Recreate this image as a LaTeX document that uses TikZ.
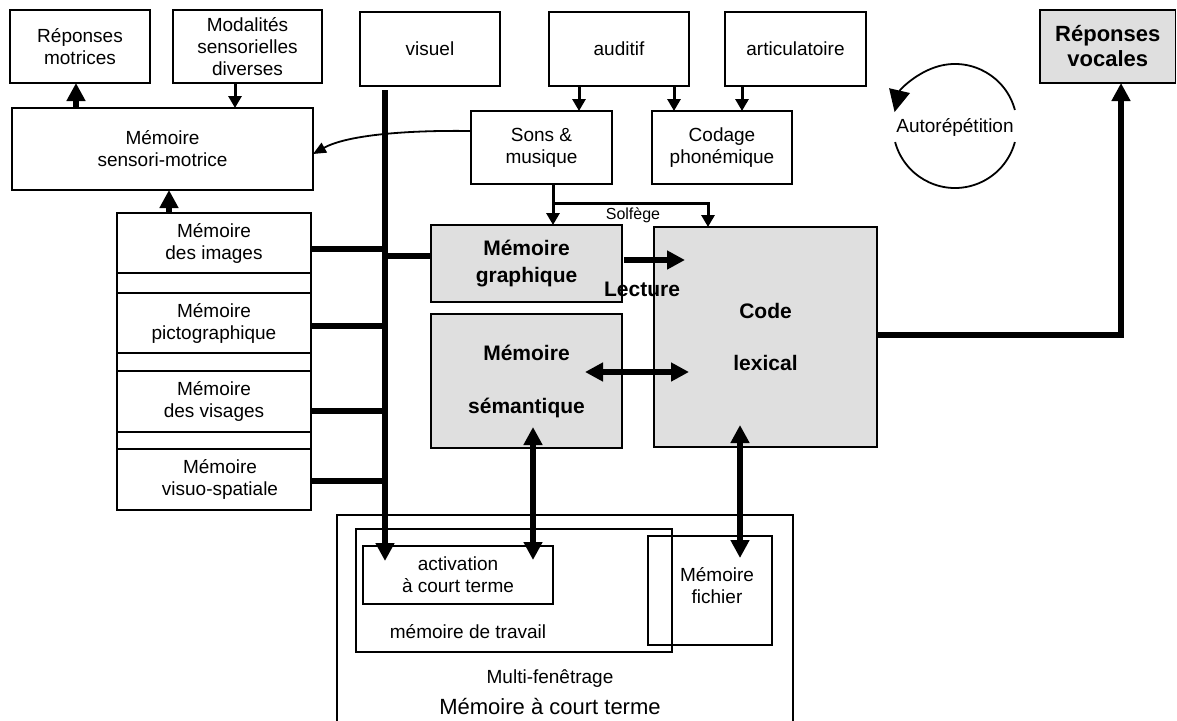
\documentclass[tikz,border=0pt]{standalone}
\usepackage{fontspec}
\setmainfont{Liberation Sans}
\usetikzlibrary{arrows.meta}
\definecolor{boxgrey}{HTML}{DFDFDF}

\tikzset{
  box/.style={draw, line width=1.8pt, rectangle, inner sep=0pt, outer sep=0pt,
              align=center, font=\fontsize{19}{22}\selectfont},
  greybox/.style={box, fill=boxgrey},
  label/.style={inner sep=0pt, align=center, font=\fontsize{19}{22}\selectfont},
  thinarrow/.style={line width=3pt, -{Triangle[length=12pt,width=13pt]}},
  thickline/.style={line width=5.5pt, line cap=butt, line join=miter},
  thickarrow/.style={thickline, -{Triangle[length=18pt,width=18pt]}},
  dblarrow/.style={thickline, {Triangle[length=18pt,width=18pt]}-{Triangle[length=18pt,width=18pt]}},
}

\begin{document}
\begin{tikzpicture}[x=1pt,y=-1pt]
\clip (0,0) rectangle (1177,720);

% top row
\node[box, minimum width=140pt, minimum height=73pt] (rm) at (80,46.5) {Réponses\\motrices};
\node[box, minimum width=149pt, minimum height=73pt] (mod) at (247.5,46.5) {Modalités\\sensorielles\\diverses};
\node[box, minimum width=140pt, minimum height=74pt] (vis) at (430,49) {visuel};
\node[box, minimum width=140pt, minimum height=74pt] (aud) at (619,49) {auditif};
\node[box, minimum width=141pt, minimum height=74pt] (art) at (795.5,49) {articulatoire};
\node[greybox, minimum width=135.5pt, minimum height=73pt,
      font=\fontsize{22}{25}\selectfont\bfseries] (rv) at (1107.75,46.5) {Réponses\\vocales};

% second row
\node[box, minimum width=301pt, minimum height=82pt] (sm) at (162.5,149) {Mémoire\\sensori-motrice};
\node[box, minimum width=141pt, minimum height=73pt] (sons) at (541.5,147.5) {Sons \&\\musique};
\node[box, minimum width=140pt, minimum height=73pt] (cod) at (722,147.5) {Codage\\phonémique};

% stack of visual memories
\node[box, minimum width=194pt, minimum height=297pt] (stack) at (214,361.5) {};
\node[box, minimum width=194pt, minimum height=60pt] (img) at (214,243) {Mémoire\\des images};
\node[box, minimum width=194pt, minimum height=60pt] (pic) at (214,323) {Mémoire\\pictographique};
\node[box, minimum width=194pt, minimum height=61pt] (visg) at (214,401.5) {Mémoire\\des visages};
\node[box, minimum width=194pt, minimum height=61pt] (vsp) at (214,479.5) {\hspace*{12pt}Mémoire\\\hspace*{12pt}visuo-spatiale};

% central grey boxes
\node[greybox, minimum width=191pt, minimum height=77pt,
      font=\fontsize{21}{27}\selectfont\bfseries] (mg) at (526.5,263.5) {Mémoire\\graphique};
\node[greybox, minimum width=191pt, minimum height=134pt,
      font=\fontsize{21}{53}\selectfont\bfseries] (ms) at (526.5,381) {Mémoire\\sémantique};
\node[greybox, minimum width=223pt, minimum height=220pt,
      font=\fontsize{21}{52}\selectfont\bfseries] (cl) at (765.5,337) {Code\\lexical};

% short-term memory block
\node[box, minimum width=456pt, minimum height=215pt] (mct) at (565,622.5) {};
\node[box, minimum width=316pt, minimum height=123pt] (mt) at (514,590.5) {};
\node[box, minimum width=190pt, minimum height=58pt] (act) at (458,575) {activation\\à court terme};
\node[box, minimum width=124pt, minimum height=109pt] (mf) at (710,590.5) {};
\node[label] (mftext) at (717,586) {Mémoire\\fichier};
\node[label] (mttext) at (468,632) {mémoire de travail};
\node[label] (multi) at (550,679) {Multi-fenêtrage};
\node[label, font=\fontsize{22}{25}\selectfont] (mcttext) at (550,706) {Mémoire à court terme};

% thin feed arrows
\draw[thinarrow] ([xshift=-12.5pt]mod.south) -- ([xshift=-12.5pt]mod.south |- sm.north);
\draw[thinarrow] ([xshift=-40pt]aud.south) -- ([xshift=-40pt]aud.south |- sons.north);
\draw[thinarrow] ([xshift=55pt]aud.south) -- ([xshift=55pt]aud.south |- cod.north);
\draw[thinarrow] ([xshift=-53.5pt]art.south) -- ([xshift=-53.5pt]art.south |- cod.north);

% solfège branch
\coordinate (solf) at (553,203);
\draw[thinarrow] ([xshift=11.5pt]sons.south) -- ([xshift=11.5pt]sons.south |- mg.north);
\draw[thinarrow] (solf) -| ([xshift=-57.5pt]cl.north);
\node[label, font=\fontsize{16}{19}\selectfont] (solftext) at (633,215) {Solfège};

% sounds to sensori-motor memory
\draw[line width=1.8pt, -{Triangle[length=13pt,width=11pt]}]
  ([yshift=16.5pt]sons.west) .. controls (400,130) and (345,136) .. ([yshift=-5pt]sm.east);

% thick arrows to motor responses
\draw[thickarrow] ([xshift=-4pt]rm.south |- sm.north) -- ([xshift=-4pt]rm.south);
\draw[thickarrow] ([xshift=-45pt]stack.north) -- ([xshift=-45pt]stack.north |- sm.south);

% visual bus
\coordinate (bustop) at (385,90);
\coordinate (busend) at (385,561);
\draw[thickarrow] (bustop) -- (busend);
\draw[thickline] (img.east |- 0,249) -- (bustop |- 0,249);
\draw[thickline] (pic.east |- 0,326) -- (bustop |- 0,326);
\draw[thickline] (visg.east |- 0,411) -- (bustop |- 0,411);
\draw[thickline] (vsp.east |- 0,481) -- (bustop |- 0,481);
\draw[thickline] (bustop |- 0,256) -- (mg.west |- 0,256);

% links between grey boxes
\draw[thickarrow] ([xshift=2pt]mg.east |- 0,260) -- ([xshift=31pt]cl.west |- 0,260);
\node[label, font=\fontsize{21}{25}\selectfont\bfseries] (lect) at (642,289) {Lecture};
\draw[dblarrow] ([xshift=-37pt]ms.east |- 0,372) -- ([xshift=35pt]cl.west |- 0,372);
\draw[dblarrow] ([xshift=6.5pt,yshift=21pt]ms.south) -- ([xshift=75pt,yshift=-14pt]act.north);
\draw[dblarrow] ([xshift=-25.5pt,yshift=22pt]cl.south) -- ([xshift=30pt,yshift=-22pt]mf.north);

% lexical code to vocal responses
\draw[thickarrow] (cl.east |- 0,335) -| ([xshift=13.25pt]rv.south);

% rehearsal loop
\coordinate (loop) at (955,126);
\node[label] (auto) at (955,127) {Autorépétition};
\draw[line width=1.8pt, -{Triangle[length=22pt,width=21pt]}]
  (loop) ++(-15:62) arc[start angle=-15, end angle=-167, radius=62];
\draw[line width=1.8pt] (loop) ++(165:62) arc[start angle=165, end angle=15, radius=62];

\end{tikzpicture}
\end{document}
